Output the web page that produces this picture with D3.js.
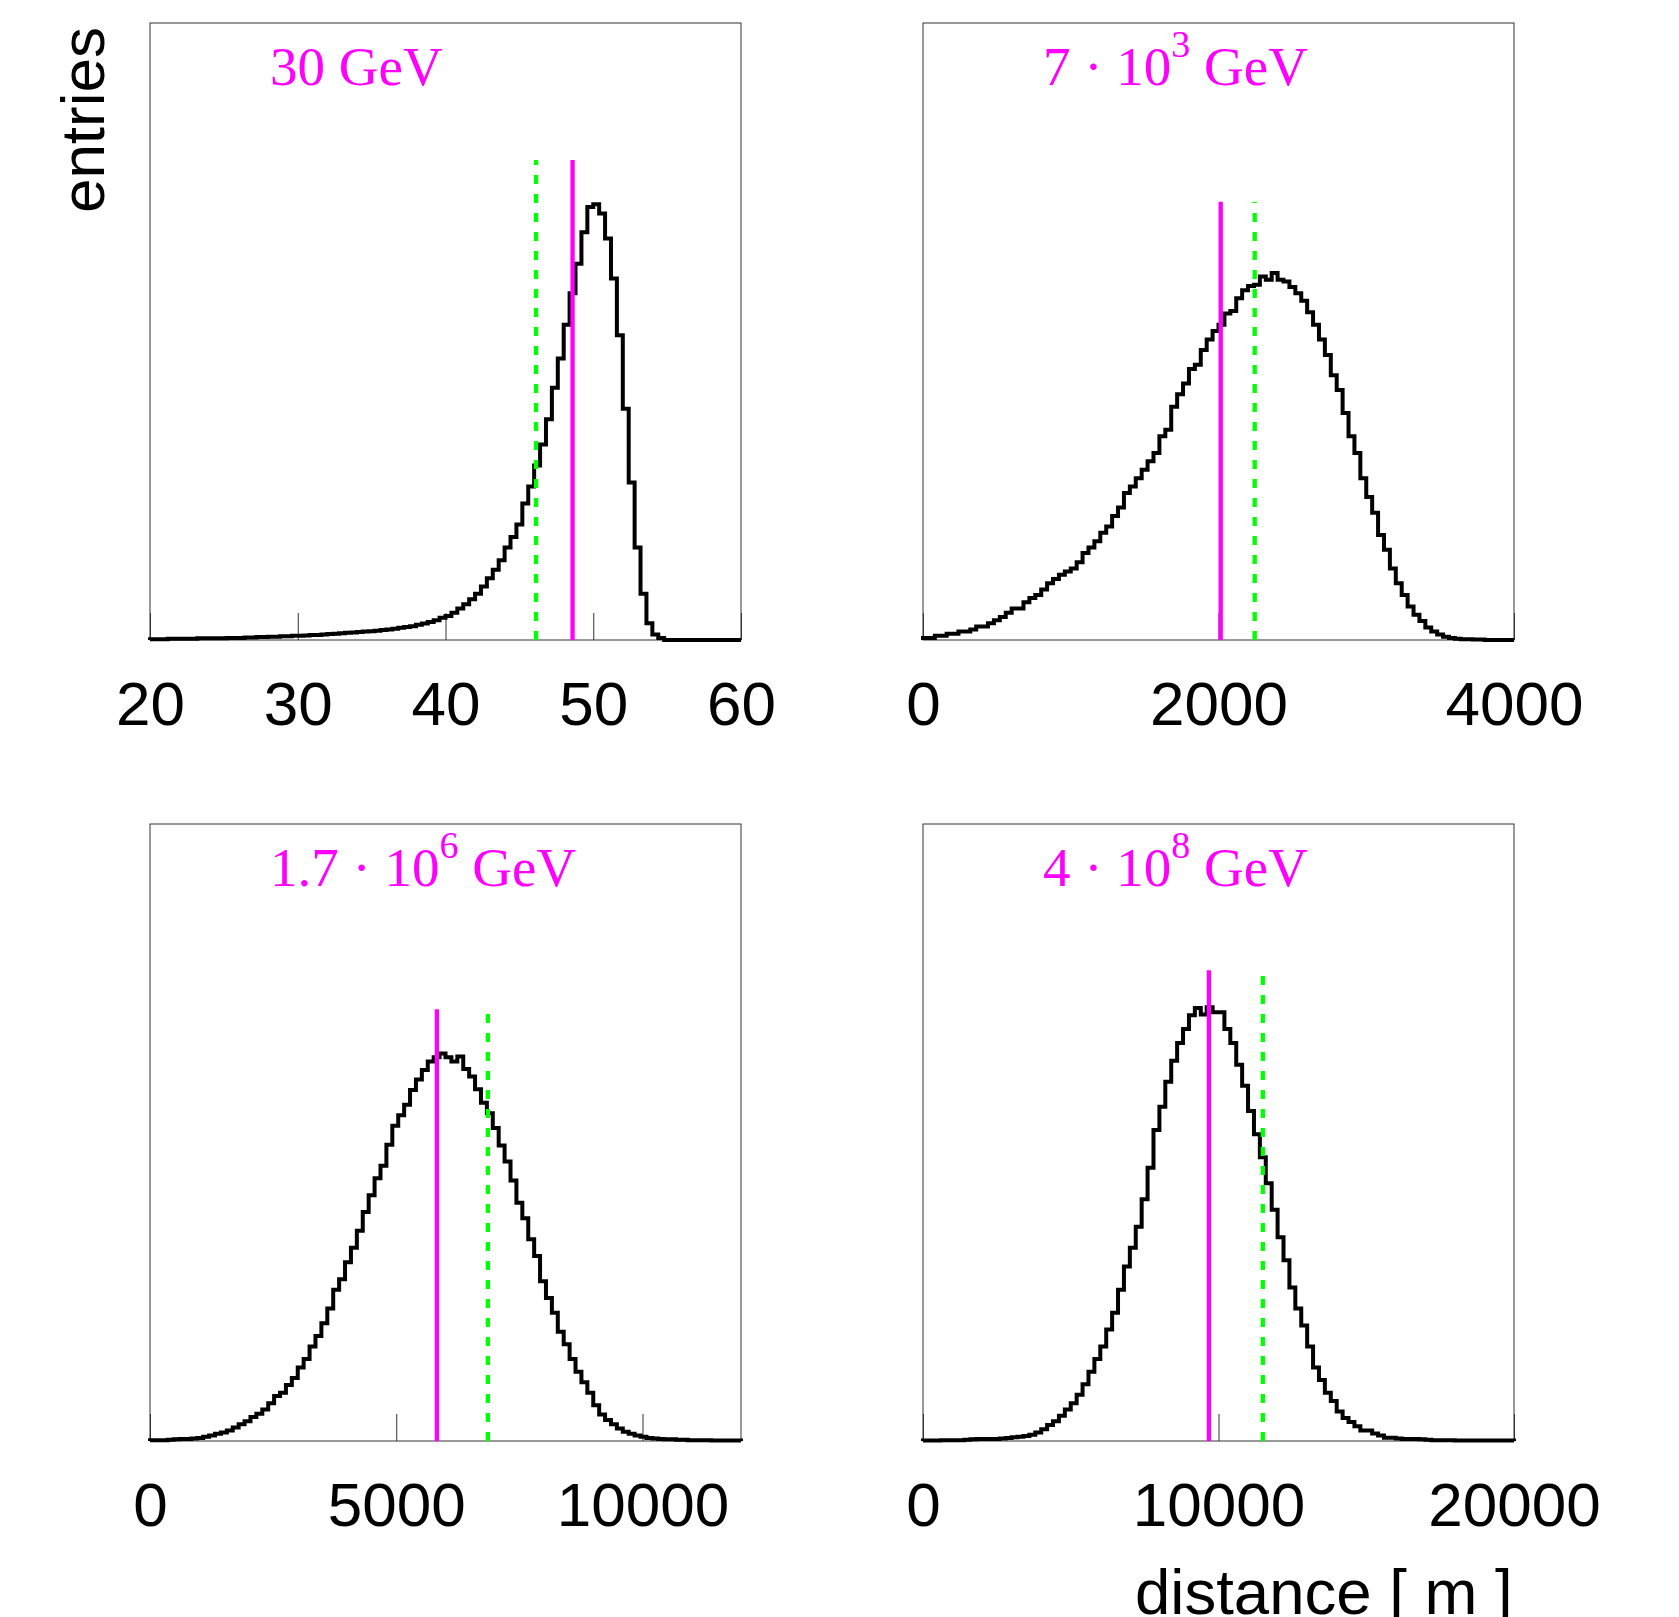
<!DOCTYPE html>
<html>
<head>
<meta charset="utf-8">
<script src="https://cdn.jsdelivr.net/npm/d3@7"></script>
<style>
  body { margin: 0; background: #fff; }
  svg { display: block; }
</style>
</head>
<body>
<svg id="chart" width="1679" height="1617"></svg>
<script>
// histogram contents, 100 bins each (arbitrary entries)
const entries30GeV = [
  2,2,2,3,3,3,3,3,4,4,
  4,4,4,5,5,5,6,6,7,7,
  8,8,9,9,10,10,11,12,12,13,
  14,15,16,17,18,19,20,21,22,24,
  25,27,29,31,33,36,39,43,47,53,
  57,65,75,85,97,110,127,147,167,190,
  220,245,275,325,365,415,465,525,600,670,
  750,825,895,970,1030,1037,1015,955,860,725,
  550,375,220,110,40,13,5,0,0,0,
  0,0,0,0,0,0,0,0,0,0
];
const entries7e3GeV = [
  5,5,10,10,15,15,20,20,25,32,
  32,40,47,55,65,75,75,90,100,107,
  120,135,145,155,163,170,185,207,220,235,
  255,270,295,315,350,365,385,405,425,445,
  485,500,555,585,610,645,655,690,715,735,
  750,777,783,813,832,842,845,865,857,873,
  857,853,840,825,807,780,750,715,678,630,
  595,540,485,445,385,340,303,250,215,170,
  135,107,80,60,45,30,20,13,8,5,
  3,2,2,1,1,0,0,0,0,0
];
const entries17e6GeV = [
  2,2,2,3,4,5,5,6,7,10,
  13,17,20,25,32,40,47,57,65,75,
  90,107,115,133,150,175,195,225,250,280,
  315,360,385,425,460,500,545,585,625,655,
  705,750,775,800,835,860,883,903,913,922,
  913,903,915,885,867,837,805,780,745,703,
  665,620,567,530,480,440,380,340,305,260,
  230,195,165,140,115,85,63,50,40,30,
  22,17,13,10,7,6,5,4,4,3,
  3,2,2,2,2,1,1,1,1,1
];
const entries4e8GeV = [
  1,1,1,2,2,2,2,3,4,5,
  5,5,5,6,7,9,10,12,15,20,
  28,38,47,60,75,90,110,135,165,195,
  225,265,305,360,415,460,510,575,650,740,
  795,855,905,947,980,1013,1030,1015,1032,1020,
  1020,980,947,895,845,785,730,675,613,550,
  485,430,365,315,275,225,175,145,115,95,
  70,55,45,35,25,25,18,13,8,8,
  6,5,5,5,4,3,2,2,2,2,
  1,1,1,1,1,1,1,1,1,1
];

const xDomains = [[20, 60], [0, 4000], [0, 12000], [0, 20000]];
const xTicks = [[20, 30, 40, 50, 60], [0, 2000, 4000], [0, 5000, 10000], [0, 10000, 20000]];
const energyBase = ["30", "7 \u00b7 10", "1.7 \u00b7 10", "4 \u00b7 10"];
const energyExp = ["", "3", "6", "8"];
const solidMarker = [48.6, 2015, 5825, 9675];     // magenta
const dashedMarker = [46.13, 2245, 6860, 11500];  // green
const markerTop = [1142, 1043, 1027, 1120];
const yMax = 1468;

const allEntries = [entries30GeV, entries7e3GeV, entries17e6GeV, entries4e8GeV];

// layout
const panelW = 591, panelH = 617;
const panelX = [150, 923, 150, 923];
const panelY = [23, 23, 824, 824];

const svg = d3.select('#chart');
svg.append('rect').attr('width', 1679).attr('height', 1617).attr('fill', '#fff');

allEntries.forEach(function(vals, p) {
  const g = svg.append('g')
    .attr('transform', 'translate(' + panelX[p] + ',' + panelY[p] + ')');

  const dom = xDomains[p];
  const x = d3.scaleLinear().domain(dom).range([0, panelW]);
  const y = d3.scaleLinear().domain([0, yMax]).range([panelH, 0]);

  // frame
  g.append('rect')
    .attr('width', panelW).attr('height', panelH)
    .attr('fill', 'none').attr('stroke', '#333').attr('stroke-width', 1);

  // axis: short ticks pointing up, big labels well below
  const axis = d3.axisBottom(x)
    .tickValues(xTicks[p])
    .tickSizeInner(-27).tickSizeOuter(0)
    .tickPadding(41)
    .tickFormat(d3.format('d'));
  const ax = g.append('g').attr('transform', 'translate(0,' + panelH + ')').call(axis);
  ax.select('.domain').remove();
  ax.selectAll('.tick line').attr('stroke', '#333').attr('stroke-width', 1);
  ax.selectAll('.tick text')
    .attr('font-family', 'Liberation Sans, Arial, sans-serif')
    .attr('font-size', 62)
    .attr('fill', '#000');
  ax.attr('font-size', null).attr('font-family', null);

  // histogram outline
  const bw = (dom[1] - dom[0]) / vals.length;
  const pts = [[dom[0], 0]];
  vals.forEach(function(v, i) { pts.push([dom[0] + i * bw, v]); });
  pts.push([dom[1], vals[vals.length - 1]]);
  pts.push([dom[1], 0]);
  const line = d3.line().x(d => x(d[0])).y(d => y(d[1])).curve(d3.curveStepAfter);
  g.append('path')
    .datum(pts)
    .attr('d', line)
    .attr('fill', 'none')
    .attr('stroke', '#000')
    .attr('stroke-width', 4)
    .attr('stroke-linejoin', 'miter');

  // markers
  g.append('line')
    .attr('x1', x(dashedMarker[p])).attr('x2', x(dashedMarker[p]))
    .attr('y1', y(0)).attr('y2', y(markerTop[p]))
    .attr('stroke', '#00ff00').attr('stroke-width', 4.3)
    .attr('stroke-dasharray', '9,10');
  g.append('line')
    .attr('x1', x(solidMarker[p])).attr('x2', x(solidMarker[p]))
    .attr('y1', y(0)).attr('y2', y(markerTop[p]))
    .attr('stroke', '#ff00ff').attr('stroke-width', 4.3);

  // energy label
  const t = g.append('text')
    .attr('x', 120).attr('y', 62)
    .attr('font-family', 'Liberation Serif, Times New Roman, serif')
    .attr('font-size', 55)
    .attr('fill', '#ff00ff');
  t.append('tspan').text(energyBase[p]);
  if (energyExp[p]) {
    t.append('tspan').attr('font-size', 38).attr('dy', -28).text(energyExp[p]);
    t.append('tspan').attr('dy', 28).text('\u00a0GeV');
  } else {
    t.append('tspan').text(' GeV');
  }
});

// axis titles
svg.append('text')
  .attr('transform', 'translate(104,27) rotate(-90)')
  .attr('text-anchor', 'end')
  .attr('font-family', 'Liberation Sans, Arial, sans-serif')
  .attr('font-size', 62)
  .text('entries');

svg.append('text')
  .attr('x', 1135).attr('y', 1614)
  .attr('font-family', 'Liberation Sans, Arial, sans-serif')
  .attr('font-size', 63.5)
  .text('distance [ m ]');
</script>
</body>
</html>
